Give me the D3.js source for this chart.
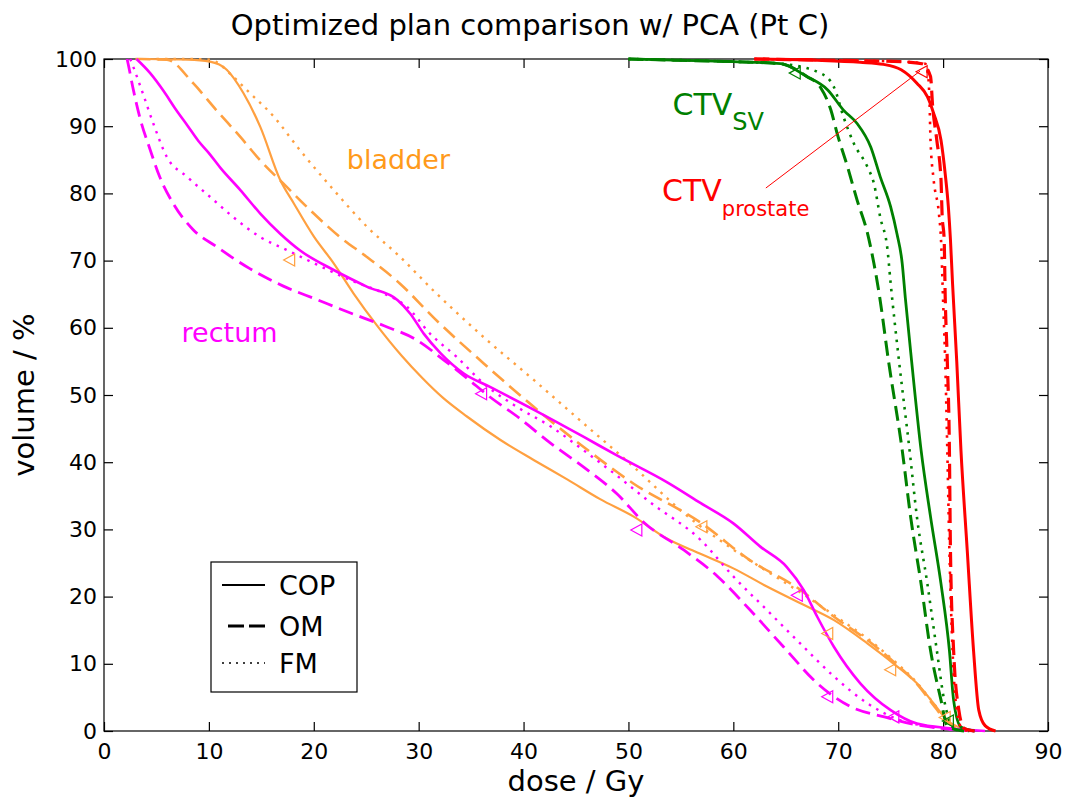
<!DOCTYPE html>
<html>
<head>
<meta charset="utf-8">
<script src="https://cdn.jsdelivr.net/npm/d3@7"></script>
<style>
  html, body { margin: 0; padding: 0; background: #fff; }
  svg { display: block; }
  text { font-family: "DejaVu Sans", sans-serif; }
</style>
</head>
<body>
<svg id="chart" width="1069" height="805"></svg>
<script>
// ---------------- data (dose in Gy, volume in %) ----------------
const titleText = "Optimized plan comparison w/ PCA (Pt C)";
const xLabel = "dose / Gy";
const yLabel = "volume / %";
const xTicks = [0, 10, 20, 30, 40, 50, 60, 70, 80, 90];
const yTicks = [0, 10, 20, 30, 40, 50, 60, 70, 80, 90, 100];
const methods = ["COP", "OM", "FM"];

const bladderCOP = [[4,100],[8,99.9],[10.1,99.6],[11.7,98.4],[13.3,94.9],[14.9,89.9],[16.8,82.0],[18.1,78.5],[20.0,73.6],[21.9,69.6],[23.8,65.1],[26.0,60.4],[28.4,55.8],[30.3,52.6],[32.3,49.6],[34.6,46.8],[37.8,43.3],[41.0,40.3],[44.2,37.4],[47.3,34.5],[50.5,31.9],[53.7,28.6],[56.8,26.4],[60.0,24.2],[63.2,21.5],[66.4,19.0],[69.6,16.5],[72.8,13.0],[75.3,10.0],[77.5,7.1],[79.1,4.1],[80.4,1.6],[81.6,0.5],[83,0]];
const bladderOM = [[3,100],[6.0,99.9],[8.5,96.4],[10.7,92.4],[13.0,88.4],[14.9,84.9],[17.4,81.0],[20.0,77.0],[22.5,73.5],[25.1,70.5],[28.2,66.6],[31.5,61.4],[36.2,54.7],[41.0,48.2],[45.7,42.3],[50.5,36.8],[56.9,31.0],[61.6,25.4],[66.4,21.0],[69.6,17.0],[72.8,13.5],[75.5,10.0],[77.5,7.0],[79.0,4.0],[80.3,1.5],[81.5,0.3],[83,0]];
const bladderFM = [[5,100],[8,100],[10.1,99.9],[12.3,97.4],[13.6,95.4],[16.2,91.4],[18.7,86.4],[21.9,80.5],[25.1,75.0],[28.2,70.6],[31.5,65.4],[36.2,58.6],[41.0,52.2],[45.7,45.8],[50.5,39.3],[55.3,32.4],[60.0,27.0],[64.0,23.0],[67.0,20.0],[70.0,16.8],[73.0,13.5],[75.5,10.2],[77.5,7.2],[79.0,4.3],[80.3,1.8],[81.5,0.4],[83,0]];

const rectumCOP = [[3.1,100],[4.4,97.9],[5.7,95.2],[6.8,92.6],[8.0,90.0],[9.0,87.8],[10.0,86.0],[11.1,83.8],[13.0,80.5],[14.9,77.0],[16.8,74.0],[18.7,71.5],[21.9,68.6],[25.1,66.1],[28.0,64.1],[29.2,62.1],[30.5,59.1],[32.1,56.2],[34.3,53.2],[36.8,51.2],[41.0,47.8],[45.7,43.8],[48.9,41.0],[53.7,37.0],[56.9,33.9],[60.0,30.9],[62.6,27.4],[65.1,24.4],[66.7,21.0],[68.0,17.0],[69.6,12.5],[72.1,7.1],[75.0,3.1],[77.5,1.1],[80.7,0.4],[84,0]];
const rectumOM = [[2.2,100],[2.3,99.3],[2.8,95.4],[3.4,91.4],[4.4,86.5],[5.3,82.5],[6.6,78.5],[8.5,74.6],[10.7,72.1],[13.9,68.8],[17.1,66.2],[20.3,64.2],[23.5,62.2],[26.7,60.3],[29.8,58.2],[32.4,55.2],[34.6,52.5],[36.8,49.7],[39.4,46.8],[42.6,42.8],[45.7,39.3],[48.9,35.3],[51.5,31.0],[55.3,26.9],[58.5,23.0],[61.6,18.0],[64.8,12.5],[68.0,7.1],[71.2,3.6],[74.4,2.1],[77.5,0.9],[80.5,0.3],[83,0]];
const rectumFM = [[2.5,100],[2.8,98.8],[3.7,94.9],[4.7,90.4],[6.0,85.4],[7.9,82.5],[10.1,79.5],[12.3,76.5],[14.9,73.5],[17.4,71.6],[20.3,69.4],[23.5,67.1],[26.7,65.1],[28.9,63.1],[31.1,59.1],[33.6,55.7],[36.2,51.7],[39.4,48.2],[42.6,45.3],[45.7,41.8],[48.9,38.0],[52.1,34.0],[56.9,28.4],[60.0,23.0],[63.2,18.0],[66.4,13.0],[69.6,8.1],[72.8,4.1],[75.9,1.6],[79,0.6],[82,0]];

const svCOP = [[50,100],[55,99.8],[60,99.6],[64.5,99.3],[67.0,97.4],[69.0,95.4],[70.5,92.4],[71.8,90.4],[73.1,86.9],[74.0,82.5],[75.0,78.0],[75.6,74.0],[76.1,69.6],[76.4,64.4],[77.0,55],[77.9,41.8],[78.8,31.9],[79.8,21.9],[80.6,12.0],[81.0,4.6],[81.7,0.6],[83,0]];
const svOM = [[50,100],[55,99.8],[60,99.6],[64.5,99.3],[67.0,97.4],[68.3,95.8],[69.3,92.4],[69.9,88.9],[70.9,83.9],[71.8,79.0],[72.8,74.0],[73.4,69.6],[73.9,65.1],[74.8,55],[76.1,41.8],[76.9,31.9],[77.9,21.9],[78.8,12.0],[79.8,4.6],[80.4,0.7],[82,0]];
const svFM = [[50,100],[60,99.6],[64.5,99.3],[68.3,97.9],[69.6,95.8],[70.5,91.4],[71.5,87.4],[72.8,83.9],[73.4,81.5],[74.0,76.5],[74.7,71.6],[75.0,66.6],[75.8,55],[76.8,41.8],[77.5,31.9],[78.5,21.9],[79.4,12.0],[80.1,4.6],[81,0.5],[82.5,0]];

const prostateCOP = [[62,100],[68,99.8],[72.1,99.5],[74.3,99.2],[76.0,98.4],[77.5,96.4],[78.5,94.4],[79.1,91.9],[79.8,87.9],[80.2,82.9],[80.5,78.0],[80.7,73.1],[80.9,66.6],[81.3,55],[81.7,41.8],[82.3,26.9],[82.9,12.0],[83.4,3.1],[84.0,0.8],[85.0,0]];
const prostateOM = [[62,100],[70,99.8],[76,99.6],[78.0,99.3],[78.8,97.4],[79.0,93.0],[79.4,87.9],[79.8,82.0],[79.9,77.0],[80.1,73.1],[80.2,64.6],[80.4,55],[80.6,41.8],[80.7,26.9],[81.0,12.0],[81.5,3.1],[82,0.4],[83,0]];
const prostateFM = [[62,100],[70,99.8],[76,99.6],[78.3,99.3],[78.6,97],[78.7,93.9],[78.8,87.9],[79.1,82.0],[79.6,77.0],[79.8,73.1],[80.0,64],[80.2,55],[80.4,41.8],[80.6,26.9],[80.9,12.0],[81.3,3.1],[81.8,0.4],[82.5,0]];

// constraint markers (open left-pointing triangles)
const bladderMarkers = [[17.7,70.1],[57.0,30.4],[69.0,14.5],[75.0,9.1],[80.2,2.0]];
const rectumMarkers = [[36.0,50.2],[50.8,29.9],[66.1,20.2],[69.0,5.1],[75.3,2.1]];
const svMarkers = [[65.9,97.9],[80.5,1.5]];
const prostateMarkers = [[78.0,98.1]];

// annotation pointer for CTV prostate label
const prostatePointer = [[63.1,80.8],[77.8,98.2]];

// ---------------- styles ----------------
const colors = { bladder: "#ffa040", rectum: "#ff00ff", sv: "#008000", prostate: "#ff0000" };
const dashes = { COP: null, OM: "15,7", FM: "2.5,6" };

const svg = d3.select("#chart");
const x = d3.scaleLinear().domain([0, 90]).range([104, 1048]);
const y = d3.scaleLinear().domain([0, 100]).range([731, 59]);

// frame
svg.append("rect")
  .attr("x", x(0)).attr("y", y(100))
  .attr("width", x(90) - x(0)).attr("height", y(0) - y(100))
  .attr("fill", "none").attr("stroke", "#000").attr("stroke-width", 1.2);

// axes
function styleAxis(g, fs) {
  g.select(".domain").remove();
  g.selectAll(".tick line").attr("stroke", "#000").attr("stroke-width", 1.2);
  g.selectAll(".tick text").attr("fill", "#000")
    .style("font-family", "'DejaVu Sans', sans-serif").style("font-size", fs + "px");
}
svg.append("g").attr("transform", `translate(0,${y(0)})`)
  .call(d3.axisBottom(x).tickValues(xTicks).tickFormat(d3.format("d")).tickSizeInner(-9).tickSizeOuter(0).tickPadding(12))
  .call(g => styleAxis(g, 22));
svg.append("g").attr("transform", `translate(${x(0)},0)`)
  .call(d3.axisLeft(y).tickValues(yTicks).tickFormat(d3.format("d")).tickSizeInner(-9).tickSizeOuter(0).tickPadding(7))
  .call(g => styleAxis(g, 22));
svg.append("g").attr("transform", `translate(0,${y(100)})`)
  .call(d3.axisTop(x).tickValues(xTicks).tickFormat("").tickSizeInner(-9).tickSizeOuter(0))
  .call(g => styleAxis(g, 22));
svg.append("g").attr("transform", `translate(${x(90)},0)`)
  .call(d3.axisRight(y).tickValues(yTicks).tickFormat("").tickSizeInner(-9).tickSizeOuter(0))
  .call(g => styleAxis(g, 22));

// curves
const line = d3.line().x(d => x(d[0])).y(d => y(d[1])).curve(d3.curveMonotoneX);
const series = [
  { data: bladderCOP, color: colors.bladder, m: "COP", w: 2.2 },
  { data: bladderOM, color: colors.bladder, m: "OM", w: 2.6 },
  { data: bladderFM, color: colors.bladder, m: "FM", w: 2.4 },
  { data: rectumCOP, color: colors.rectum, m: "COP", w: 2.6 },
  { data: rectumOM, color: colors.rectum, m: "OM", w: 2.8 },
  { data: rectumFM, color: colors.rectum, m: "FM", w: 2.4 },
  { data: svCOP, color: colors.sv, m: "COP", w: 2.8 },
  { data: svOM, color: colors.sv, m: "OM", w: 3 },
  { data: svFM, color: colors.sv, m: "FM", w: 2.6 },
  { data: prostateCOP, color: colors.prostate, m: "COP", w: 3 },
  { data: prostateOM, color: colors.prostate, m: "OM", w: 3.2 },
  { data: prostateFM, color: colors.prostate, m: "FM", w: 2.6 }
];
svg.append("g").selectAll("path").data(series).join("path")
  .attr("d", d => line(d.data))
  .attr("fill", "none")
  .attr("stroke", d => d.color)
  .attr("stroke-width", d => d.w)
  .attr("stroke-dasharray", d => dashes[d.m]);

// markers
const tri = ([dx, dv]) => {
  const cx = x(dx), cy = y(dv);
  return `M${cx + 5},${cy - 6}L${cx - 6},${cy}L${cx + 5},${cy + 6}Z`;
};
const markerSets = [
  { pts: bladderMarkers, color: colors.bladder },
  { pts: rectumMarkers, color: colors.rectum },
  { pts: svMarkers, color: colors.sv },
  { pts: prostateMarkers, color: colors.prostate }
];
markerSets.forEach(s => {
  svg.append("g").selectAll("path").data(s.pts).join("path")
    .attr("d", tri).attr("fill", "none").attr("stroke", s.color).attr("stroke-width", 1.2);
});

// pointer line
svg.append("line")
  .attr("x1", x(prostatePointer[0][0])).attr("y1", y(prostatePointer[0][1]))
  .attr("x2", x(prostatePointer[1][0])).attr("y2", y(prostatePointer[1][1]))
  .attr("stroke", colors.prostate).attr("stroke-width", 1);

// structure labels
svg.append("text").attr("x", x(23.15)).attr("y", y(83.7))
  .attr("fill", "#ff9a1a").style("font-size", "27px").text("bladder");
svg.append("text").attr("x", x(7.4)).attr("y", y(57.9))
  .attr("fill", colors.rectum).style("font-size", "27px").text("rectum");
const sv = svg.append("text").attr("x", x(54.2)).attr("y", y(91.7))
  .attr("fill", colors.sv).style("font-size", "30px");
sv.append("tspan").text("CTV");
sv.append("tspan").attr("dy", 15).style("font-size", "24px").text("SV");
const pr = svg.append("text").attr("x", x(53.2)).attr("y", y(78.8))
  .attr("fill", colors.prostate).style("font-size", "30px");
pr.append("tspan").text("CTV");
pr.append("tspan").attr("dy", 15).style("font-size", "21px").text("prostate");

// title & axis labels
svg.append("text").attr("x", 530).attr("y", 35).attr("text-anchor", "middle")
  .attr("fill", "#000").style("font-size", "29px").text(titleText);
svg.append("text").attr("x", (x(0) + x(90)) / 2).attr("y", 791).attr("text-anchor", "middle")
  .attr("fill", "#000").style("font-size", "29px").text(xLabel);
svg.append("text").attr("transform", `translate(34,${(y(0) + y(100)) / 2}) rotate(-90)`)
  .attr("text-anchor", "middle").attr("fill", "#000").style("font-size", "29px").text(yLabel);

// legend
const lg = svg.append("g");
lg.append("rect").attr("x", 211).attr("y", 562).attr("width", 146).attr("height", 130)
  .attr("fill", "#fff").attr("stroke", "#000").attr("stroke-width", 1.2);
const legendY = [585, 626, 663];
methods.forEach((m, i) => {
  lg.append("line").attr("x1", m === "OM" ? 228 : 222).attr("x2", 265)
    .attr("y1", legendY[i]).attr("y2", legendY[i])
    .attr("stroke", "#000").attr("stroke-width", m === "OM" ? 3 : (m === "FM" ? 1.5 : 2))
    .attr("stroke-dasharray", m === "OM" ? "16,5" : (m === "FM" ? "2,5" : null));
  lg.append("text").attr("x", 279).attr("y", legendY[i]).attr("dy", "0.36em")
    .attr("fill", "#000").style("font-size", "27px").text(m);
});
</script>
</body>
</html>
